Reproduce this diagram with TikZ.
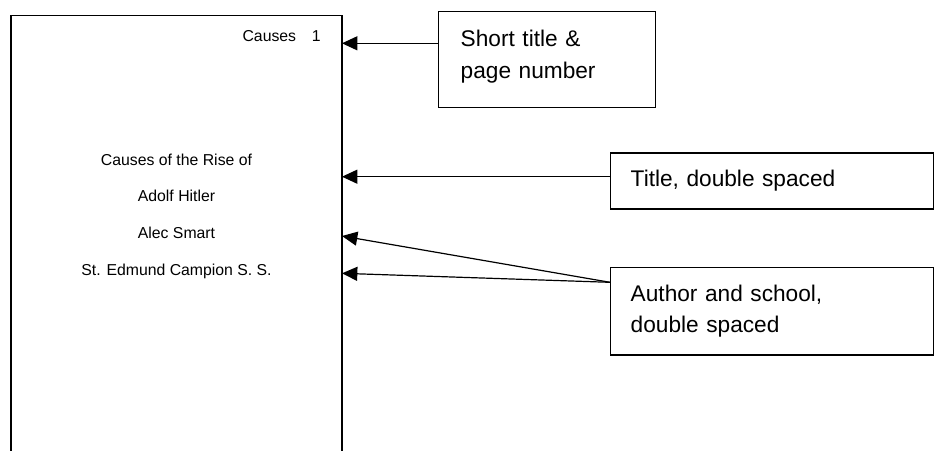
\documentclass[tikz,border=0pt]{standalone}
\usepackage{fontspec}
\setmainfont{Liberation Sans}
\usetikzlibrary{arrows.meta,calc}
\begin{document}
\begin{tikzpicture}[x=0.75pt,y=-0.75pt,
  pagetext/.style={anchor=base,inner sep=0pt,font=\fontsize{11.85}{14}\selectfont},
  label/.style={draw,line width=1.1pt,align=left,anchor=north west,inner ysep=0pt,
    font=\fontsize{17}{23.6}\selectfont},
  arr/.style={line width=0.9pt,-{Triangle[length=11.5pt,width=10.5pt]}}]
\useasboundingbox (0,0) rectangle (935,450);
% page outline
\draw[line width=1.2pt] (11,455) |- (342,15.5) -- (342,455);
% page texts
\node[pagetext,anchor=base east] (run) at (321,41.5) {Causes\quad 1};
\node[pagetext] (t1) at (176.5,165) {Causes of the Rise of};
\node[pagetext] (t2) at (176.5,201.7) {Adolf Hitler};
\node[pagetext] (t3) at (176.5,238.4) {Alec Smart};
\node[pagetext] (t4) at (176.5,275) {St. Edmund Campion S. S.};
% arrow targets on the page edge
\coordinate (p1) at (342,43.3);
\coordinate (p2) at (342,176.7);
\coordinate (p3) at (342,236);
\coordinate (p4) at (342,273.3);
% labels
\node[label,inner xsep=16.5pt,text width=129.75pt,minimum height=72pt,text depth=31.7pt] (b1) at (438,11)
  {Short title \&\\page number};
\node[label,inner xsep=15pt,text width=212pt,minimum height=42pt] (b2) at (610,152.3)
  {Title, double spaced};
\node[label,inner xsep=15pt,text width=212pt,minimum height=65.6pt] (b3) at (610,266.7)
  {Author and school,\\double spaced};
% connectors
\draw[arr] (b1.west |- p1) -- (p1);
\draw[arr] (b2.west |- p2) -- (p2);
\draw[arr] ($(b3.north west)+(0,15.6)$) -- (p3);
\draw[arr] ($(b3.north west)+(0,15.6)$) -- (p4);
\end{tikzpicture}
\end{document}
